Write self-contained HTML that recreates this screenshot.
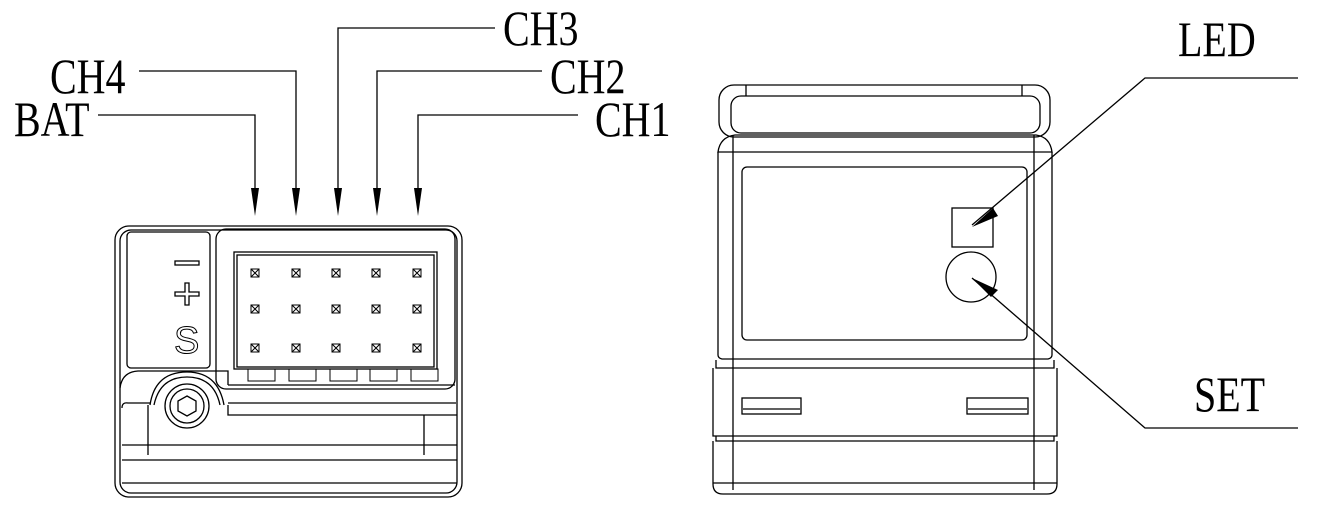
<!DOCTYPE html>
<html><head><meta charset="utf-8"><style>
html,body{margin:0;padding:0;background:#fff;}
svg{display:block;}
text.l{font-family:"Liberation Serif",serif;font-size:50px;fill:#000;}
</style></head><body>
<svg width="1324" height="511" viewBox="0 0 1324 511" xmlns="http://www.w3.org/2000/svg" fill="none" stroke="#000" stroke-width="1.3">
<defs>
<g id="p" stroke-width="1"><rect x="-4" y="-4" width="8" height="8"/><path d="M-4-4L4 4M4-4L-4 4"/></g>
</defs>
<!-- labels -->
<g stroke="none">
<text class="l" transform="translate(14,136) scale(0.8,1)">BAT</text>
<text class="l" transform="translate(50,93) scale(0.8,1)">CH4</text>
<text class="l" transform="translate(503,45) scale(0.8,1)">CH3</text>
<text class="l" transform="translate(550,93) scale(0.8,1)">CH2</text>
<text class="l" transform="translate(595,136) scale(0.8,1)">CH1</text>
<text class="l" transform="translate(1178,56) scale(0.8,1)">LED</text>
<text class="l" transform="translate(1194,411) scale(0.8,1)">SET</text>
</g>
<!-- leader lines -->
<polyline points="98,115 255,115 255,190"/>
<polyline points="139,71 296,71 296,190"/>
<polyline points="338,190 338,28 495,28"/>
<polyline points="377,190 377,71 542,71"/>
<polyline points="418,190 418,115 578,115"/>
<g fill="#000" stroke="none">
<polygon points="251,188 259,188 255,216"/>
<polygon points="292,188 300,188 296,216"/>
<polygon points="334,188 342,188 338,216"/>
<polygon points="373,188 381,188 377,216"/>
<polygon points="414,188 422,188 418,216"/>
</g>
<!-- LED / SET leaders -->
<polyline points="1298,78 1145,78 972,225"/>
<polyline points="1298,428 1145,428 972,278"/>
<g fill="#000" stroke="none">
<polygon points="972,227 993,208 998,216"/>
<polygon points="972,278 998,290 991,297"/>
</g>
<!-- left device -->
<rect x="115" y="226" width="347" height="271" rx="14"/>
<rect x="120" y="230" width="337" height="263" rx="11"/>
<rect x="127" y="232" width="83" height="136" rx="4"/>
<rect x="216" y="229" width="239" height="160" rx="10"/>
<rect x="234" y="252" width="203" height="117"/>
<rect x="237" y="255" width="197" height="112"/>
<g stroke-width="1">
<rect x="248" y="369" width="27" height="12"/><rect x="289" y="369" width="27" height="12"/>
<rect x="330" y="369" width="27" height="12"/><rect x="370" y="369" width="27" height="12"/>
<rect x="411" y="369" width="27" height="12"/>
</g>
<use href="#p" x="255" y="273"/><use href="#p" x="296" y="273"/><use href="#p" x="336" y="273"/><use href="#p" x="376" y="273"/><use href="#p" x="417" y="273"/>
<use href="#p" x="255" y="309"/><use href="#p" x="296" y="309"/><use href="#p" x="336" y="309"/><use href="#p" x="376" y="309"/><use href="#p" x="417" y="309"/>
<use href="#p" x="255" y="348"/><use href="#p" x="296" y="348"/><use href="#p" x="336" y="348"/><use href="#p" x="376" y="348"/><use href="#p" x="417" y="348"/>
<!-- +/- S -->
<rect x="175" y="261" width="24" height="4"/>
<path d="M185 283h4v9h10v4h-10v9h-4v-9h-10v-4h10z"/>
<text x="174" y="353" stroke="#000" stroke-width="1" fill="none" style="font-family:'Liberation Sans',sans-serif;font-size:38px;fill:none">S</text>
<!-- lower section -->
<path d="M120 388 Q122 372 138 371 L228 371 L228 385"/>
<path d="M228 385 L455 385"/>
<path d="M228 403 L456 403"/>
<path d="M228 405 L228 415 L457 415"/>
<path d="M122 408 Q122 402 128 403 L150 403"/>
<path d="M122 445 L457 445"/>
<path d="M122 460 L457 460"/>
<path d="M122 483 L457 483"/>
<path d="M148 405 L148 455 M424 415 L424 455"/>
<path d="M150 405 Q155 372 187 372 Q218 372 224 405"/>
<path d="M154 405 Q160 377 187 377 Q214 377 220 405"/>
<circle cx="187" cy="406" r="22"/>
<circle cx="187" cy="406" r="17"/>
<polygon points="187,396 196,401 196,411 187,416 178,411 178,401"/>
<!-- right device -->
<rect x="719" y="85" width="331" height="52" rx="15"/>
<rect x="731" y="96" width="309" height="37" rx="10"/>
<path d="M746 85 L746 96 M1022 85 L1022 96"/>
<path d="M718 152 L718 355 Q718 358 722 359 L1048 359 Q1052 358 1052 355 L1052 152"/>
<path d="M718 152 Q720 137 735 135 L1036 135 Q1050 137 1052 152 Z"/>
<path d="M733 135 L733 490 M1034 135 L1034 490"/>
<rect x="742" y="167" width="285" height="173" rx="5"/>
<rect x="952" y="208" width="41" height="39"/>
<circle cx="971" cy="277" r="25"/>
<path d="M716 360 L716 368 L1054 368 L1054 360"/>
<path d="M713 368 L713 436 L1057 436 L1057 368"/>
<rect x="742" y="398" width="59" height="16"/>
<path d="M743 409 L800 409"/>
<rect x="967" y="398" width="61" height="16"/>
<path d="M968 409 L1027 409"/>
<path d="M716 436 L716 441 L1054 441 L1054 436"/>
<path d="M713 441 L713 484 Q713 494 723 494 L1047 494 Q1057 494 1057 484 L1057 441"/>
<path d="M713 483 L1057 483"/>
</svg>
</body></html>
